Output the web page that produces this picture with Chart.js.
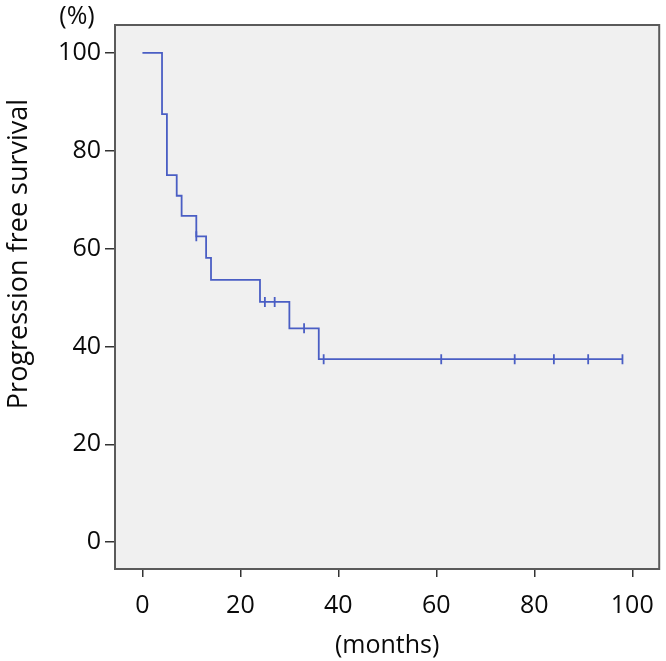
<!DOCTYPE html>
<html>
<head>
<meta charset="utf-8">
<script src="https://cdn.jsdelivr.net/npm/chart.js@4/dist/chart.umd.min.js"></script>
<style>
  html, body { margin: 0; padding: 0; background: #fff; }
  #wrap { width: 666px; height: 661px; position: relative; }
</style>
</head>
<body>
<div id="wrap"><canvas id="km"></canvas></div>
<script>
// Kaplan-Meier curve: event times (months) and survival (%)
const eventTimes = [0, 4, 5, 7, 8, 11, 13, 14, 24, 30, 36, 98];
const survival = [100, 87.5, 75, 70.8, 66.7, 62.5, 58.1, 53.6, 49.1, 43.7, 37.4, 37.4];

// censored observations
const censorTimes = [11, 25, 27, 33, 37, 61, 76, 84, 91, 98];
const censorValues = [62.5, 49.1, 49.1, 43.7, 37.4, 37.4, 37.4, 37.4, 37.4, 37.4];

const xTicks = [0, 20, 40, 60, 80, 100];
const yTicks = [0, 20, 40, 60, 80, 100];

const FONT = "'Open Sans', sans-serif";
const lineColor = '#4a5ec4';
const textColor = '#0a0a0a';

const plotFrame = {
    id: 'plotFrame',
    beforeDatasetsDraw(chart) {
        const { ctx, chartArea: a } = chart;
        ctx.save();
        ctx.fillStyle = '#f0f0f0';
        ctx.fillRect(a.left, a.top, a.right - a.left, a.bottom - a.top);
        ctx.restore();
    },
    afterDraw(chart) {
        const { ctx, chartArea: a } = chart;
        ctx.save();
        ctx.strokeStyle = '#5a5a5a';
        ctx.lineWidth = 2;
        ctx.strokeRect(a.left, a.top, a.right - a.left, a.bottom - a.top);

        ctx.fillStyle = textColor;
        ctx.font = `25px ${FONT}`;
        ctx.textAlign = 'center';
        ctx.textBaseline = 'middle';
        ctx.fillText('(%)', 77, 17);

        ctx.font = `27px ${FONT}`;
        ctx.translate(19, 254);
        ctx.rotate(-Math.PI / 2);
        ctx.fillText('Progression free survival', 0, 0);
        ctx.restore();
    }
};

new Chart(document.getElementById('km'), {
    type: 'line',
    data: {
        datasets: [{
            label: 'PFS',
            data: eventTimes.map((t, i) => ({ x: t, y: survival[i] })),
            stepped: 'before',
            borderColor: lineColor,
            borderWidth: 1.8,
            pointRadius: 0,
            fill: false
        }, {
            label: 'Censored',
            data: censorTimes.map((t, i) => ({ x: t, y: censorValues[i] })),
            showLine: false,
            pointStyle: 'line',
            rotation: 90,
            pointRadius: 5,
            borderColor: lineColor,
            borderWidth: 1.8
        }]
    },
    options: {
        responsive: true,
        maintainAspectRatio: false,
        animation: false,
        layout: { padding: { top: 25, right: 1, left: 0, bottom: 0 } },
        plugins: {
            legend: { display: false },
            tooltip: { enabled: false }
        },
        scales: {
            x: {
                type: 'linear',
                min: -5.6,
                max: 105.5,
                afterBuildTicks: s => { s.ticks = xTicks.map(v => ({ value: v })); },
                afterFit: s => { s.height = 92; s.paddingLeft = 0; s.paddingRight = 0; },
                grid: { drawOnChartArea: false, drawTicks: true, tickLength: 8, color: '#333', lineWidth: 1.5 },
                border: { display: false },
                ticks: { font: { family: FONT, size: 25 }, color: textColor, padding: 14, maxRotation: 0 },
                title: { display: true, text: '(months)', font: { family: FONT, size: 25 }, color: textColor, padding: { top: 0, bottom: 0 } }
            },
            y: {
                min: -5.5,
                max: 105.7,
                afterBuildTicks: s => { s.ticks = yTicks.map(v => ({ value: v })); },
                afterFit: s => { s.width = 115; s.paddingTop = 0; s.paddingBottom = 0; },
                grid: { drawOnChartArea: false, drawTicks: true, tickLength: 10, color: '#333', lineWidth: 1.5 },
                border: { display: false },
                ticks: { font: { family: FONT, size: 25 }, color: textColor, padding: 4 }
            }
        }
    },
    plugins: [plotFrame]
});
</script>
</body>
</html>
